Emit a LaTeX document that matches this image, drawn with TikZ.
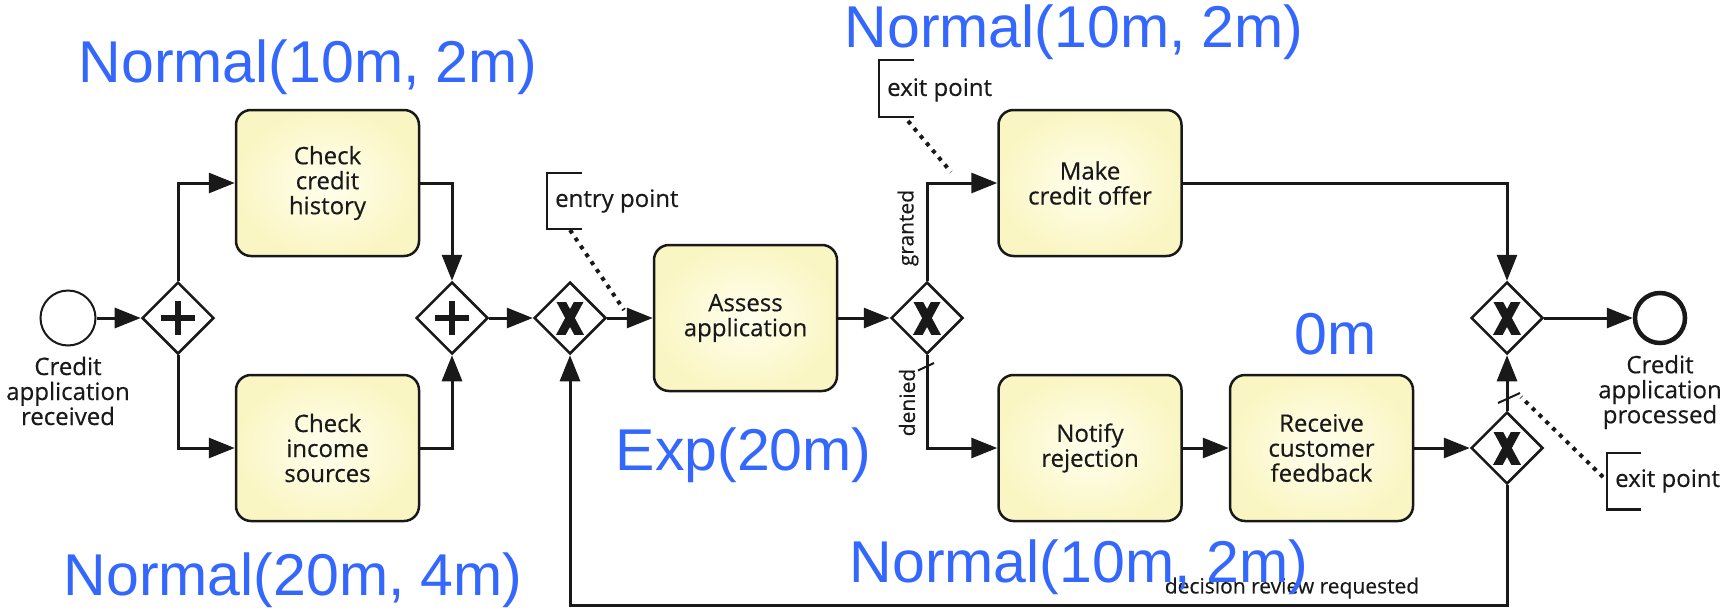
\documentclass[tikz,border=0pt]{standalone}
\usepackage{fontspec}
\setmainfont{Open Sans}
\newfontfamily\diagfont[FakeBold=0.4]{Open Sans}
\newfontfamily\bluefont{Liberation Sans}
\usetikzlibrary{arrows.meta,shapes.geometric,calc}

\definecolor{inkc}{RGB}{25,25,25}
\definecolor{bluelab}{RGB}{52,103,253}
\definecolor{taskin}{RGB}{255,255,238}
\definecolor{taskout}{RGB}{250,246,196}

\tikzset{
  flow/.style={line width=3pt, draw=inkc, -{Triangle[length=26pt,width=20pt]}},
  task/.style={rectangle, rounded corners=15pt, draw=inkc, line width=2.5pt,
    inner color=taskin, outer color=taskout, minimum width=183pt,
    minimum height=146pt, align=center, text=inkc,
    font=\diagfont\fontsize{24}{25}\selectfont},
  gwbase/.style={diamond, draw=inkc, line width=2.5pt, fill=white,
    minimum width=72pt, minimum height=72pt, inner sep=0pt},
  andgw/.style={gwbase, path picture={
    \draw[line width=5.5pt, inkc]
      ([yshift=-17pt]path picture bounding box.center) -- ([yshift=17pt]path picture bounding box.center)
      ([xshift=-17pt]path picture bounding box.center) -- ([xshift=17pt]path picture bounding box.center);}},
  xorgw/.style={gwbase, path picture={
    \clip ([xshift=-16pt,yshift=-16pt]path picture bounding box.center) rectangle
          ([xshift=16pt,yshift=16pt]path picture bounding box.center);
    \draw[line width=8.5pt, inkc]
      ([xshift=-10.3pt,yshift=-19pt]path picture bounding box.center) -- ([xshift=10.3pt,yshift=19pt]path picture bounding box.center)
      ([xshift=10.3pt,yshift=-19pt]path picture bounding box.center) -- ([xshift=-10.3pt,yshift=19pt]path picture bounding box.center);}},
  startev/.style={circle, draw=inkc, line width=2pt, fill=white, minimum size=55pt, inner sep=0pt},
  endev/.style={circle, draw=inkc, line width=4.5pt, fill=white, minimum size=50pt, inner sep=0pt},
  evlabel/.style={align=center, text=inkc, inner sep=0pt, font=\diagfont\fontsize{24}{25}\selectfont},
  note/.style={text=inkc, inner sep=0pt, font=\diagfont\fontsize{24}{25}\selectfont},
  small/.style={text=inkc, inner sep=0pt, font=\diagfont\fontsize{21}{22}\selectfont},
  bracket/.style={line width=2.5pt, draw=inkc},
  assoc/.style={line width=4pt, draw=inkc, dash pattern=on 4pt off 5.5pt},
  marker/.style={line width=2pt, draw=inkc},
  dist/.style={text=bluelab, inner sep=0pt, font=\bluefont\fontsize{59}{60}\selectfont}
}

\begin{document}
\begin{tikzpicture}[x=1pt,y=-1pt]
\fill[white] (0,0) rectangle (1729,608);
\useasboundingbox (0,0) rectangle (1729,608);

% events
\node[startev] (start) at (68,318) {};
\node[evlabel] (startlab) at (68,391) {Credit\\application\\received};
\node[endev] (end) at (1660,318) {};
\node[evlabel] (endlab) at (1660,392) {Credit\\application\\processed};

% gateways
\node[andgw] (g1) at (178,318) {};
\node[andgw] (g2) at (452,318) {};
\node[xorgw] (x1) at (570,318) {};
\node[xorgw] (x2) at (927,318) {};
\node[xorgw] (xm) at (1507,318) {};
\node[xorgw] (xs) at (1507,448) {};

% tasks
\node[task] (hist)    at (327.5,183) {Check\\credit\\history};
\node[task] (inc)     at (327.5,448) {Check\\income\\sources};
\node[task] (assess)  at (745.5,318) {Assess\\application};
\node[task] (offer)   at (1090,183)  {Make\\credit offer};
\node[task] (notify)  at (1090,448)  {Notify\\rejection};
\node[task] (receive) at (1321.5,448) {Receive\\customer\\feedback};

% sequence flows
\draw[flow] (start) -- (g1);
\draw[flow] (g1.north) |- (hist.west);
\draw[flow] (g1.south) |- (inc.west);
\draw[flow] (hist.east) -| (g2.north);
\draw[flow] (inc.east) -| (g2.south);
\draw[flow] (g2) -- (x1);
\draw[flow] (x1) -- (assess);
\draw[flow] (assess) -- (x2);
\draw[flow] (x2.north) |- (offer.west);
\draw[flow] (x2.south) |- (notify.west);
\draw[flow] (notify) -- (receive);
\draw[flow] (receive) -- (xs);
\draw[flow] (xs) -- (xm);
\draw[flow] (offer.east) -| (xm.north);
\draw[flow] (xm) -- (end);
\coordinate (loopR) at (1507,605);
\coordinate (loopL) at (570,605);
\draw[flow] (xs.south) -- (loopR) -- (loopL) -- (x1.south);

% default-flow markers
\draw[marker] (918,370.5) -- (934,363);
\draw[marker] (1498,403) -- (1520,393);

% flow labels
\node[small, rotate=90] (granted) at (908,228) {granted};
\node[small, rotate=90] (denied) at (907,402.5) {denied};
\node[small] (review) at (1292,588) {decision review requested};

% annotations
\node[note, anchor=west] (entry) at (555,201) {entry point};
\draw[bracket] (582,173) -| (547,229) -- (582,229);
\coordinate (entryA) at (570,230);
\coordinate (entryB) at (624,310);
\draw[assoc] (entryA) -- (entryB);

\node[note, anchor=west] (exittop) at (887,90) {exit point};
\draw[bracket] (914,60) -| (879,117) -- (914,117);
\coordinate (exitA) at (908,121);
\coordinate (exitB) at (951,172);
\draw[assoc] (exitA) -- (exitB);

\node[note, anchor=west] (exitbot) at (1615,481) {exit point};
\draw[bracket] (1641,453) -| (1607,509.5) -- (1641,509.5);
\coordinate (exitC) at (1603,477);
\coordinate (exitD) at (1521,397);
\draw[assoc] (exitC) -- (exitD);

% duration labels
\node[dist, anchor=base west] (dhist) at (78.5,82) {Normal(10m, 2m)};
\node[dist, anchor=base west] (dinc) at (63.5,595) {Normal(20m, 4m)};
\node[dist, anchor=base west] (dassess) at (615.5,470) {Exp(20m)};
\node[dist, anchor=base west] (doffer) at (844.5,47) {Normal(10m, 2m)};
\node[dist, anchor=base west] (dnotify) at (849.5,582) {Normal(10m, 2m)};
\node[dist, anchor=base west] (dreceive) at (1294.5,354) {0m};
\end{tikzpicture}
\end{document}
